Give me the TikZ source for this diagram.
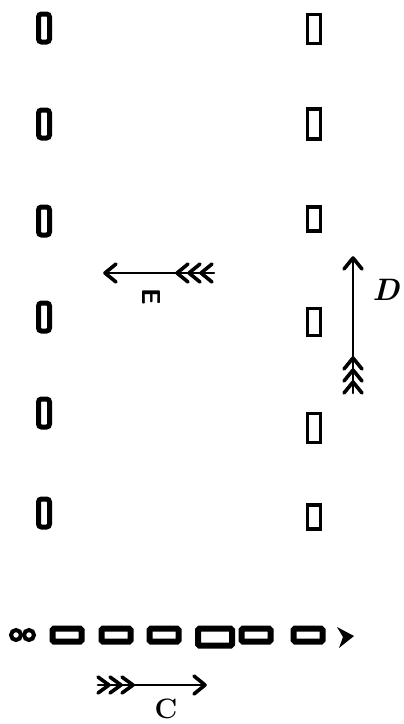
\documentclass[tikz,border=0pt]{standalone}
\usepackage{graphicx}
\usetikzlibrary{shapes.geometric,calc}
\begin{document}
\begin{tikzpicture}[x=1pt,y=-1pt,
  lpost/.style={draw=black,line width=5pt,rounded corners=3pt,minimum width=11pt,minimum height=28pt,inner sep=0pt},
  rpost/.style={draw=black,line width=3.8pt,minimum width=13pt,minimum height=29pt,inner sep=0pt},
  hbox/.style={draw=black,line width=6pt,rounded corners=1.5pt,minimum width=29pt,minimum height=13pt,inner sep=0pt},
  loop/.style={draw=black,line width=4pt,circle,minimum size=10pt,inner sep=0pt},
  shaft/.style={line width=2.6pt,line cap=round},
  vhead/.style={line width=3.6pt,line cap=round,line join=round},
  lbl/.style={inner sep=0pt}]
\useasboundingbox (0,0) rectangle (404,724);
% left posts
\foreach \i/\y in {1/28,2/124,3/221,4/317,5/413,6/513}{
  \node[lpost] (L\i) at (44,\y) {};
}
% right posts
\foreach \i/\y/\h in {1/29/29,2/124/30,3/219/24,4/322/27,5/428/29,6/517/24}{
  \node[rpost,minimum height=\h pt] (R\i) at (314,\y) {};
}
% bottom row
\node[loop] (B0a) at (16,635) {};
\node[loop] (B0b) at (29,635) {};
\foreach \i/\x in {1/67,2/116,3/164,5/256,6/308}{
  \node[hbox] (B\i) at (\x,635) {};
}
\node[hbox,minimum width=34pt,minimum height=17pt] (B4) at (215,637) {};
\fill[black] (337,627) -- (354,636) -- (339,648) -- (343,637) -- cycle;
\coordinate (B7) at (345,637);
% arrow E (left)
\coordinate (Eh) at (105,273);
\coordinate (Et) at (214,273);
\draw[shaft] (Eh) -- (Et);
\draw[vhead] ($(Eh)+(11,-9)$) -- (Eh) -- ($(Eh)+(11,9)$);
\foreach \d in {72,84,96}{
  \draw[vhead] ($(Eh)+(\d+11,-9)$) -- ($(Eh)+(\d,0)$) -- ($(Eh)+(\d+11,9)$);
}
\node[lbl] (E) at (151,297) {\rotatebox{-90}{\fontsize{26}{26}\selectfont\sffamily\bfseries E}};
% arrow D (up)
\coordinate (Dh) at (353,258);
\coordinate (Dt) at (353,393);
\draw[shaft] (Dh) -- (Dt);
\draw[vhead] ($(Dh)+(-9,11)$) -- (Dh) -- ($(Dh)+(9,11)$);
\foreach \d in {100,112,124}{
  \draw[vhead] ($(Dh)+(-9,\d+11)$) -- ($(Dh)+(0,\d)$) -- ($(Dh)+(9,\d+11)$);
}
\node[lbl] (D) at (386,290) {\fontsize{31}{31}\selectfont\bfseries\itshape D};
% arrow C (right)
\coordinate (Ct) at (98,685);
\coordinate (Ch) at (205,685);
\draw[shaft] (Ct) -- (Ch);
\draw[vhead] ($(Ch)+(-11,-9)$) -- (Ch) -- ($(Ch)+(-11,9)$);
\foreach \d in {0,12,24}{
  \draw[vhead] ($(Ct)+(\d,-8)$) -- ($(Ct)+(\d+11,0)$) -- ($(Ct)+(\d,8)$);
}
\node[lbl] (C) at (166,709) {\fontsize{28}{28}\selectfont\bfseries C};
\end{tikzpicture}
\end{document}
